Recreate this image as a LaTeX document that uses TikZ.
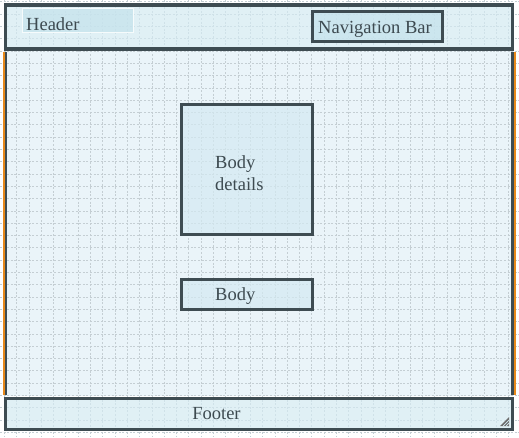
\documentclass[tikz,border=0pt]{standalone}
\usepackage{xcolor}
\usepackage{fontspec}
\setmainfont{Liberation Serif}
\usepackage{tikz}

\definecolor{pagebg}{RGB}{234,244,249}
\definecolor{zonefill}{RGB}{212,234,242}
\definecolor{tagfill}{RGB}{196,226,236}
\definecolor{edgecol}{RGB}{62,76,82}
\definecolor{inkcol}{RGB}{61,74,80}
\definecolor{gridcol}{RGB}{196,206,211}
\definecolor{railcol}{RGB}{232,137,26}

\tikzset{
  gridline/.style={gridcol, line width=0.7pt, dash pattern=on 2pt off 1.6pt},
  zone/.style={draw=edgecol, line width=3.2pt, fill=zonefill, fill opacity=0.7, text opacity=1, inner sep=0pt},
  tagbox/.style={draw=white!80!zonefill, line width=1pt, fill=tagfill, fill opacity=0.7, inner sep=0pt},
  txt/.style={text=inkcol, font=\fontsize{18.5}{22}\selectfont, inner sep=0pt, align=left}
}

\begin{document}
\begin{tikzpicture}[x=1pt,y=-1pt]
\useasboundingbox (0,0) rectangle (519,437);
\fill[white] (0,0) rectangle (519,437);
% page body
\fill[pagebg] (5,51) rectangle (514,396);
% dotted grid
\foreach \gx in {4.3,16.6,...,519} \draw[gridline] (\gx,0) -- (\gx,437);
\foreach \gy in {1.8,14.1,...,437} \draw[gridline] (0,\gy) -- (519,\gy);
% side rails of the body
\draw[railcol, line width=1.5pt] (4.2,52) -- (4.2,395);
\draw[edgecol, line width=2.4pt] (6.2,52) -- (6.2,395);
\draw[edgecol, line width=2.4pt] (512.6,52) -- (512.6,395);
\draw[railcol, line width=1.5pt] (515,52) -- (515,395);

% header
\node[zone, minimum width=506.5, minimum height=44] (header) at (259,27) {};
\node[tagbox, minimum width=111, minimum height=24] (headertag) at (77.5,20) {};
\node[txt, anchor=base west] (headerlbl) at (26,30) {Header};
\node[zone, fill=tagfill, minimum width=130, minimum height=30] (navbar) at (377.6,26.4) {};
\node[txt, anchor=base] (navbarlbl) at (375,33) {Navigation Bar};

% body boxes
\node[zone, minimum width=131, minimum height=130] (details) at (247,169.8) {};
\node[txt, anchor=base west] (detailslbl) at (215,190.7) {Body\\details};
\node[zone, minimum width=131, minimum height=30] (bodybox) at (247,294.3) {};
\node[txt, anchor=base west] (bodylbl) at (215,300) {Body};

% footer
\node[zone, minimum width=506.5, minimum height=31] (footer) at (259,414) {};
\node[txt, anchor=base] (footerlbl) at (216.5,419.3) {Footer};
% resize grip
\fill[gray!85!black] (500,426) -- (509,417) -- (509,426) -- cycle;
\foreach \k in {3,6} \draw[zonefill, line width=0.7pt] (500+\k,426) -- (509,417+\k);
\end{tikzpicture}
\end{document}
